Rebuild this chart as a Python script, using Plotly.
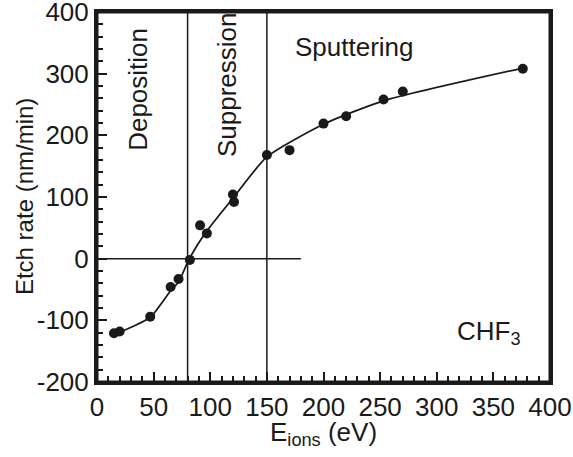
import plotly.graph_objects as go

# measured points
energy = [15, 20, 47, 65, 72, 82, 91, 97, 120, 121, 150, 170, 200, 220, 253, 270, 376]
etch_rate = [-121, -118, -94, -46, -33, -2, 54, 41, 104, 92, 168, 176, 219, 231, 258, 271, 308]

# fitted guide curve
fit_energy = [15, 20, 47, 65, 72, 81, 95, 120, 150, 200, 253, 376]
fit_rate = [-121, -119, -95, -52, -38, -2, 40, 98, 165, 218, 256, 309]

# regime boundaries
boundaries = [80, 150]
zero_line_x = [0, 180]
zero_line_y = [0, 0]

regime_labels = ["Deposition", "Suppression", "Sputtering"]
regime_x = [36, 115, 227]
regime_y = [275, 282, 343]

x_ticks = [0, 50, 100, 150, 200, 250, 300, 350, 400]
y_ticks = [-200, -100, 0, 100, 200, 300, 400]
y_tick_text = ["-200", "-100", "0", "100", "200", "300", "400"]

x_title = "E<sub>ions</sub> (eV)"
y_title = "Etch rate (nm/min)"

ink = "#1a1a1a"
font = "Liberation Sans, Arial, sans-serif"

fig = go.Figure()

fig.add_trace(go.Scatter(x=fit_energy, y=fit_rate, mode="lines",
                         line=dict(color=ink, width=1.8, shape="spline", smoothing=0.6),
                         hoverinfo="skip", showlegend=False))
fig.add_trace(go.Scatter(x=zero_line_x, y=zero_line_y, mode="lines",
                         line=dict(color=ink, width=1.5), showlegend=False))
for b in boundaries:
    fig.add_trace(go.Scatter(x=[b, b], y=[-200, 400], mode="lines",
                             line=dict(color=ink, width=1.5), showlegend=False))
fig.add_trace(go.Scatter(x=energy, y=etch_rate, mode="markers",
                         marker=dict(color=ink, size=10), showlegend=False))

for label, xx, yy in zip(regime_labels, regime_x, regime_y):
    fig.add_annotation(x=xx, y=yy, text=label, showarrow=False,
                       textangle=0 if label == "Sputtering" else -90,
                       font=dict(size=26, color=ink, family=font))
fig.add_annotation(x=316, y=-120, text="CHF<sub>3</sub>", showarrow=False,
                   xanchor="left", font=dict(size=26, color=ink, family=font))

# axis titles
fig.add_annotation(xref="paper", yref="paper", x=0.5, y=-0.089, yanchor="top",
                   text=x_title, showarrow=False,
                   font=dict(size=26, color=ink, family=font))
fig.add_annotation(xref="paper", yref="paper", x=-0.161, y=0.5, xanchor="center",
                   textangle=-90, text=y_title, showarrow=False,
                   font=dict(size=24, color=ink, family=font))

# plot frame
fig.add_shape(type="rect", xref="paper", yref="paper", x0=0, y0=0, x1=1, y1=1,
              line=dict(color=ink, width=3), layer="above")

axis_common = dict(showgrid=False, zeroline=False, showline=True, linecolor=ink,
                   linewidth=3, mirror=True, ticks="inside", ticklen=10,
                   tickwidth=2, tickcolor=ink, automargin=False,
                   ticklabeloverflow="allow",
                   tickfont=dict(size=26, color=ink, family=font))

fig.update_xaxes(range=[0, 400], tickvals=x_ticks,
                 minor=dict(ticks="inside", ticklen=6, tickwidth=1.5, tickcolor=ink, dtick=10, tick0=0),
                 **axis_common)
fig.update_yaxes(range=[-200, 400], tickvals=y_ticks, ticktext=y_tick_text,
                 minor=dict(ticks="inside", ticklen=6, tickwidth=1.5, tickcolor=ink, dtick=20, tick0=0),
                 **axis_common)

fig.update_layout(width=573, height=457, margin=dict(l=97, r=23, t=12, b=75),
                  plot_bgcolor="white", paper_bgcolor="white", showlegend=False)

fig.write_html("out.html", config={"displayModeBar": False},
               post_script="document.body.style.margin='0';")
